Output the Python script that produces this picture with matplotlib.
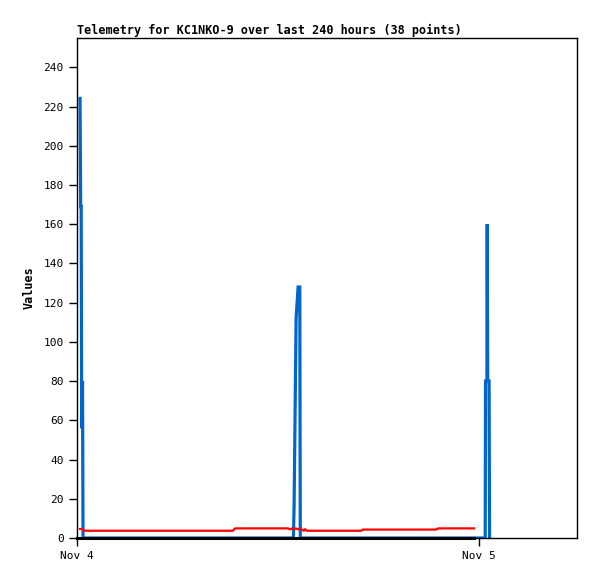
import matplotlib
matplotlib.use("Agg")
import matplotlib.pyplot as plt

# hours since Nov 4 00:00
blue_t = [0.18, 0.22, 0.25, 0.28, 0.33, 0.36,
          12.92, 12.96, 13.00, 13.04, 13.08, 13.20, 13.30, 13.33,
          24.37, 24.39, 24.47, 24.49, 24.52, 24.60, 24.63]
blue_v = [225, 169, 169, 56, 80, 0,
          0, 16, 48, 80, 112, 128, 128, 0,
          0, 80, 80, 160, 80, 80, 0]

red_t = [0.18, 0.30, 0.36, 0.48, 9.31, 9.43, 12.60, 12.72, 12.84, 12.96, 13.07,
         13.19, 13.31, 13.43, 13.55, 13.61, 13.73, 16.96, 17.07, 21.43, 21.55, 23.70]
red_v = [4.6, 4.6, 4.2, 3.7, 3.7, 4.9, 4.9, 4.4, 4.9, 4.4, 4.9,
         4.4, 4.9, 4.2, 3.7, 4.5, 3.7, 3.7, 4.3, 4.3, 4.9, 4.9]

black_t = [0.0, 23.70]
black_v = [0, 0]

xtick_pos = [0, 24]
xtick_labels = ["Nov 4", "Nov 5"]
yticks = list(range(0, 241, 20))

mono = "DejaVu Sans Mono"

fig = plt.figure(figsize=(5.97, 5.79), dpi=100)
ax = fig.add_axes([77 / 597, 41 / 579, 500 / 597, 500 / 579])

ax.plot(blue_t, blue_v, color="#0066cc", lw=2.3, zorder=2,
        solid_joinstyle="miter", solid_capstyle="butt")
ax.plot(red_t, red_v, color="#ff0000", lw=1.6, zorder=3)
ax.plot(black_t, black_v, color="black", lw=2.2, zorder=4, clip_on=False)

ax.set_xlim(0, 29.85)
ax.set_ylim(0, 255)
ax.set_xticks(xtick_pos)
ax.set_xticklabels(xtick_labels, fontfamily=mono, fontsize=8)
ax.set_yticks(yticks)
ax.set_yticklabels([str(v) for v in yticks], fontfamily=mono, fontsize=8)
ax.tick_params(direction="out", length=6, width=1, colors="black")

for s in ax.spines.values():
    s.set_linewidth(1)
    s.set_color("black")

ax.set_ylabel("Values", fontfamily=mono, fontweight="bold", fontsize=8.5, labelpad=6)
ax.set_title("Telemetry for KC1NKO-9 over last 240 hours (38 points)",
             fontfamily=mono, fontweight="bold", fontsize=8.5, loc="left", pad=3)

fig.savefig("out.png", dpi=100)
